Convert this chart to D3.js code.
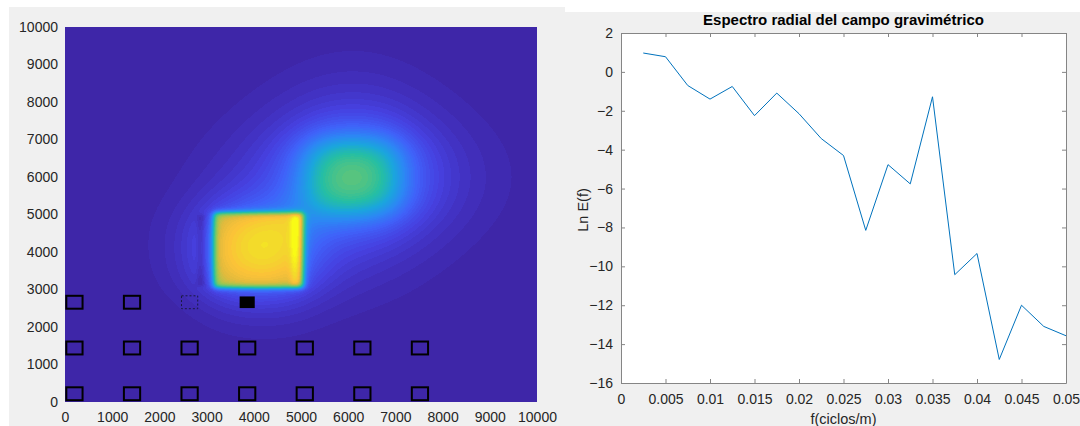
<!DOCTYPE html>
<html>
<head>
<meta charset="utf-8">
<script src="https://cdn.jsdelivr.net/npm/d3@7"></script>
<style>
  body { margin: 0; background: #fff; }
  svg { display: block; font-family: "Liberation Sans", Arial, sans-serif; }
</style>
</head>
<body>
<svg id="chart" width="1080" height="426"></svg>
<script>
// ---- left panel: gravity anomaly map (metres) ----
const mapTicks = [0, 1000, 2000, 3000, 4000, 5000, 6000, 7000, 8000, 9000, 10000];

// anomalous bodies: extent (m), edge softness (m), relative amplitude
//                 block  strip  glow   halo   deep   halo   trough
const bodyX0   = [3150,  4800,  3150,  3150,  5150,  5250,  2810];
const bodyX1   = [5050,  5000,  5050,  5050,  7050,  6950,  2950];
const bodyY0   = [3050,  3100,  3050,  3050,  5050,  5150,  3100];
const bodyY1   = [5050,  5000,  5050,  5050,  6950,  6850,  5000];
const bodyBlur = [45,    40,    330,   500,   270,   750,   30];
const bodyAmp  = [0.60,  0.16,  0.20,  0.26,  0.36,  1.00,  -0.07];

// stations (squares)
const stationX = [200, 1420, 2640, 3860, 5080, 6300, 7520];
const stationRowY = [220, 1440, 2660];
const stationKind = [
  ['box', 'box', 'box', 'box', 'box', 'box', 'box'],
  ['box', 'box', 'box', 'box', 'box', 'box', 'box'],
  ['box', 'box', 'dashed', 'filled', '', '', '']
];

// parula-like colour ramp, 64 levels
const parulaStops = [0, 0.1, 0.2, 0.3, 0.4, 0.5, 0.6, 0.7, 0.8, 0.87, 0.93, 1];
const parulaColors = ['#3e26a8', '#4640e0', '#3f62f9', '#2c86f4', '#1aa6dc', '#25bfa2',
                      '#5ec57a', '#9ac652', '#e0ba3d', '#fcc238', '#f2d82c', '#f9fb15'];
const nLevels = 64;

// ---- right panel: radial spectrum ----
const freq = [0.0025, 0.005, 0.0075, 0.01, 0.0125, 0.015, 0.0175, 0.02, 0.0225, 0.025,
              0.0275, 0.03, 0.0325, 0.035, 0.0375, 0.04, 0.0425, 0.045, 0.0475, 0.05];
const lnE  = [0.97, 0.78, -0.70, -1.40, -0.75, -2.25, -1.09, -2.15, -3.43, -4.30,
              -8.15, -4.77, -5.76, -1.28, -10.43, -9.34, -14.79, -12.00, -13.09, -13.57];
const freqTicks = [0, 0.005, 0.01, 0.015, 0.02, 0.025, 0.03, 0.035, 0.04, 0.045, 0.05];
const lnTicks = [-16, -14, -12, -10, -8, -6, -4, -2, 0, 2];

const svg = d3.select('#chart');

// figure backgrounds
svg.append('rect').attr('x', 9).attr('y', 7).attr('width', 556).attr('height', 419).attr('fill', '#f0f0f0');
svg.append('rect').attr('x', 565).attr('y', 12).attr('width', 515).attr('height', 414).attr('fill', '#f0f0f0');

// ================= left map =================
const L = { left: 65, right: 537, top: 27, bottom: 402 };
const xL = d3.scaleLinear().domain([0, 10000]).range([L.left, L.right]);
const yL = d3.scaleLinear().domain([0, 10000]).range([L.bottom, L.top]);

const color = d3.scaleLinear().domain(parulaStops).range(parulaColors)
  .interpolate(d3.interpolateRgb).clamp(true);
const lut = d3.range(nLevels).map(i => d3.rgb(color(i / (nLevels - 1))));

const sig = t => 1 / (1 + Math.exp(-t));
const field = (xv, yv) => {
  let v = 0;
  for (let k = 0; k < bodyAmp.length; k++) {
    const w = bodyBlur[k];
    const bx = sig((xv - bodyX0[k]) / w) - sig((xv - bodyX1[k]) / w);
    const by = sig((yv - bodyY0[k]) / w) - sig((yv - bodyY1[k]) / w);
    v += bodyAmp[k] * bx * by;
  }
  return v;
};

const W = L.right - L.left, H = L.bottom - L.top;
const canvas = document.createElement('canvas');
canvas.width = W; canvas.height = H;
const ctx = canvas.getContext('2d');
const img = ctx.createImageData(W, H);
for (let j = 0; j < H; j++) {
  const yv = yL.invert(L.top + j + 0.5);
  for (let i = 0; i < W; i++) {
    const xv = xL.invert(L.left + i + 0.5);
    const v = Math.max(0, Math.min(1, field(xv, yv)));
    const c = lut[Math.min(nLevels - 1, Math.floor(v * nLevels))];
    const p = (j * W + i) * 4;
    img.data[p] = c.r; img.data[p + 1] = c.g; img.data[p + 2] = c.b; img.data[p + 3] = 255;
  }
}
ctx.putImageData(img, 0, 0);

svg.append('image')
  .attr('x', L.left).attr('y', L.top)
  .attr('width', W).attr('height', H)
  .attr('href', canvas.toDataURL());

// stations
const stations = [];
stationRowY.forEach((sy, r) => stationX.forEach((sx, c) => {
  if (stationKind[r][c]) stations.push({ x: sx, y: sy, kind: stationKind[r][c] });
}));
const halfW = d => d.kind === 'filled' ? 160 : 172;
const halfH = d => d.kind === 'filled' ? 155 : 172;
svg.append('g').selectAll('rect')
  .data(stations)
  .join('rect')
  .attr('x', d => xL(d.x - halfW(d)))
  .attr('y', d => yL(d.y + halfH(d)))
  .attr('width', d => xL(d.x + halfW(d)) - xL(d.x - halfW(d)))
  .attr('height', d => yL(d.y - halfH(d)) - yL(d.y + halfH(d)))
  .attr('fill', d => d.kind === 'filled' ? '#000' : 'none')
  .attr('stroke', d => d.kind === 'filled' ? 'none' : (d.kind === 'dashed' ? '#1a1a40' : '#000'))
  .attr('stroke-width', d => d.kind === 'dashed' ? 1 : 2)
  .attr('stroke-dasharray', d => d.kind === 'dashed' ? '2,2' : null);

// axes of the map
const styleTicks = g => {
  g.attr('font-family', null);
  g.select('.domain').remove();
  g.selectAll('text').attr('font-size', 14).attr('fill', '#262626');
};
svg.append('g')
  .attr('transform', `translate(0,${L.bottom})`)
  .call(d3.axisBottom(xL).tickValues(mapTicks).tickSize(0).tickPadding(10).tickFormat(d3.format('d')))
  .call(styleTicks);
svg.append('g')
  .attr('transform', `translate(${L.left},0)`)
  .call(d3.axisLeft(yL).tickValues(mapTicks).tickSize(0).tickPadding(7).tickFormat(d3.format('d')))
  .call(styleTicks);

// ================= right spectrum =================
const R = { left: 621, right: 1066, top: 33, bottom: 383 };
const xR = d3.scaleLinear().domain([0, 0.05]).range([R.left, R.right]);
const yR = d3.scaleLinear().domain([-16, 2]).range([R.bottom, R.top]);

svg.append('rect')
  .attr('x', R.left).attr('y', R.top)
  .attr('width', R.right - R.left).attr('height', R.bottom - R.top)
  .attr('fill', '#fff');

const fmtF = d => d === 0 ? '0' : String(+d.toFixed(4));
const axisStyle = g => {
  g.attr('font-family', null);
  g.select('.domain').attr('stroke', '#858585');
  g.selectAll('.tick line').attr('stroke', '#858585');
  g.selectAll('text').attr('font-size', 14).attr('fill', '#262626');
};

svg.append('g')
  .attr('transform', `translate(0,${R.bottom})`)
  .call(d3.axisBottom(xR).tickValues(freqTicks).tickFormat(fmtF).tickSizeInner(-4).tickSizeOuter(0).tickPadding(11))
  .call(axisStyle);
svg.append('g')
  .attr('transform', `translate(0,${R.top})`)
  .call(d3.axisTop(xR).tickValues(freqTicks).tickFormat('').tickSizeInner(-4).tickSizeOuter(0))
  .call(axisStyle);
svg.append('g')
  .attr('transform', `translate(${R.left},0)`)
  .call(d3.axisLeft(yR).tickValues(lnTicks).tickSizeInner(-4).tickSizeOuter(0).tickPadding(8))
  .call(axisStyle);
svg.append('g')
  .attr('transform', `translate(${R.right},0)`)
  .call(d3.axisRight(yR).tickValues(lnTicks).tickFormat('').tickSizeInner(-4).tickSizeOuter(0))
  .call(axisStyle);

const line = d3.line().x((d, i) => xR(freq[i])).y(d => yR(d));
svg.append('path')
  .datum(lnE)
  .attr('d', line)
  .attr('fill', 'none')
  .attr('stroke', '#0072bd')
  .attr('stroke-width', 1);

// titles and labels
svg.append('text')
  .attr('x', (R.left + R.right) / 2).attr('y', 25)
  .attr('text-anchor', 'middle')
  .attr('font-size', 15).attr('font-weight', 'bold').attr('fill', '#000')
  .text('Espectro radial del campo gravimétrico');

svg.append('text')
  .attr('x', (R.left + R.right) / 2).attr('y', 424)
  .attr('text-anchor', 'middle')
  .attr('font-size', 14.5).attr('fill', '#262626')
  .text('f(ciclos/m)');

svg.append('text')
  .attr('transform', `translate(588,${(R.top + R.bottom) / 2 + 2}) rotate(-90)`)
  .attr('text-anchor', 'middle')
  .attr('font-size', 14.5).attr('fill', '#262626')
  .text('Ln E(f)');
</script>
</body>
</html>
